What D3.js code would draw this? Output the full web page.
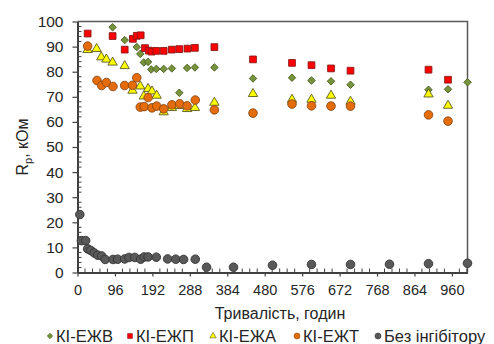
<!DOCTYPE html>
<html>
<head>
<meta charset="utf-8">
<script src="https://cdn.jsdelivr.net/npm/d3@7"></script>
<style>
  html, body { margin: 0; padding: 0; background: #fff; }
  svg { display: block; font-family: "Liberation Sans", Arial, sans-serif; }
</style>
</head>
<body>
<svg id="chart" width="494" height="344"></svg>
<script>
// Polarisation resistance (kOhm) vs. exposure time (hours)
const xTicks = [0, 96, 192, 288, 384, 480, 576, 672, 768, 864, 960];
const yTicks = [0, 10, 20, 30, 40, 50, 60, 70, 80, 90, 100];

const hoursEZhV = [90, 121, 152, 161, 170, 181, 189, 202, 221, 242, 261, 281, 301, 351, 450, 550, 600, 650, 700, 900, 950, 1000];
const valsEZhV  = [97.7, 92.6, 89.8, 87.1, 83.7, 83.9, 80.9, 81.1, 81.1, 81.3, 71.6, 81.5, 81.7, 81.7, 77.3, 77.6, 76.5, 76.2, 74.8, 72.8, 73.0, 75.8];

const hoursEZhP = [26, 90, 121, 142, 152, 162, 173, 183, 190, 202, 221, 242, 261, 282, 301, 351, 450, 550, 600, 650, 700, 900, 950];
const valsEZhP  = [95.2, 94.2, 88.8, 93.1, 94.3, 94.5, 89.4, 88.4, 88.0, 88.3, 88.3, 88.8, 89.0, 89.2, 89.5, 89.8, 84.9, 83.5, 82.6, 81.3, 80.4, 80.8, 76.8];

const hoursEZhA = [26, 49, 61, 74, 90, 121, 141, 161, 170, 181, 191, 203, 221, 242, 261, 281, 301, 351, 450, 550, 600, 650, 700, 900, 950];
const valsEZhA  = [88.7, 89.1, 85.8, 84.9, 83.7, 82.3, 72.5, 74.2, 70.2, 73.2, 72.2, 70.5, 63.9, 65.6, 66.4, 65.2, 65.6, 67.7, 71.2, 68.9, 68.9, 70.5, 68.1, 71.0, 66.5];

const hoursEZhT = [26, 50, 62, 74, 91, 121, 141, 152, 161, 171, 181, 191, 203, 221, 242, 262, 281, 302, 351, 450, 550, 600, 650, 700, 900, 950];
const valsEZhT  = [90.2, 76.5, 74.5, 75.7, 74.1, 74.5, 74.6, 77.6, 65.9, 66.1, 69.7, 65.6, 66.3, 65.2, 66.8, 67.2, 66.4, 68.7, 64.8, 63.5, 67.1, 66.4, 66.3, 66.3, 62.8, 60.3];

const hoursBlank = [6, 10, 21, 26, 34, 43, 52, 62, 71, 91, 103, 121, 132, 147, 162, 171, 181, 202, 231, 252, 272, 302, 331, 400, 500, 600, 700, 800, 900, 1000];
const valsBlank  = [23.1, 12.7, 12.7, 9.4, 8.8, 7.8, 6.9, 6.6, 5.2, 5.2, 5.3, 5.4, 6.0, 6.0, 5.3, 6.2, 6.2, 6.1, 5.4, 5.3, 5.2, 5.3, 2.1, 2.1, 2.9, 3.2, 3.2, 3.3, 3.5, 3.7];

const seriesNames = ["КІ-ЕЖВ", "КІ-ЕЖП", "КІ-ЕЖА", "КІ-ЕЖТ", "Без інгібітору"];

const series = [
  { name: seriesNames[0], hours: hoursEZhV, vals: valsEZhV, shape: d3.symbolDiamond2, size: 36, fill: "#77933c", stroke: "#4a5e22", lsize: 20 },
  { name: seriesNames[1], hours: hoursEZhP, vals: valsEZhP, shape: d3.symbolSquare2, size: 58, fill: "#ff0000", stroke: "#8b1a1a", lsize: 30 },
  { name: seriesNames[2], hours: hoursEZhA, vals: valsEZhA, shape: d3.symbolTriangle2, size: 62, fill: "#ffff00", stroke: "#5a5a20", lsize: 30 },
  { name: seriesNames[3], hours: hoursEZhT, vals: valsEZhT, shape: d3.symbolCircle, size: 58, fill: "#e46c0a", stroke: "#8a4a18", lsize: 28 },
  { name: seriesNames[4], hours: hoursBlank, vals: valsBlank, shape: d3.symbolCircle, size: 58, fill: "#595959", stroke: "#333333", lsize: 28 }
];

const svg = d3.select("#chart");
const m = { left: 77.5, top: 21.5, right: 467.5, bottom: 272.5 };

const x = d3.scaleLinear().domain([0, 1000]).range([m.left, m.right]);
const y = d3.scaleLinear().domain([0, 100]).range([m.bottom, m.top]);

// plot-area frame (top and right edges)
svg.append("path")
  .attr("d", `M${m.left},${m.top}H${m.right}V${m.bottom}`)
  .attr("fill", "none").attr("stroke", "#595959").attr("stroke-width", 1.5);

// minor ticks (inside)
const xMinor = d3.range(0, 1000, 19.2).filter(v => v % 96 > 0.01 && v % 96 < 95.99);
svg.append("g").selectAll("line").data(xMinor).join("line")
  .attr("x1", d => x(d)).attr("x2", d => x(d))
  .attr("y1", m.bottom).attr("y2", m.bottom - 4)
  .attr("stroke", "#404040").attr("stroke-width", 1);
const yMinor = d3.range(0, 100, 2).filter(v => v % 10 !== 0);
svg.append("g").selectAll("line").data(yMinor).join("line")
  .attr("y1", d => y(d)).attr("y2", d => y(d))
  .attr("x1", m.left).attr("x2", m.left + 4)
  .attr("stroke", "#404040").attr("stroke-width", 1);

// axes
const xAxis = svg.append("g")
  .attr("transform", `translate(0,${m.bottom})`)
  .call(d3.axisBottom(x).tickValues(xTicks).tickSize(4).tickPadding(8).tickSizeOuter(0));
const yAxis = svg.append("g")
  .attr("transform", `translate(${m.left},0)`)
  .call(d3.axisLeft(y).tickValues(yTicks).tickSize(5).tickPadding(9).tickSizeOuter(0));

[xAxis, yAxis].forEach(g => {
  g.select(".domain").attr("stroke", "#404040").attr("stroke-width", 2);
  g.selectAll(".tick line").attr("stroke", "#404040").attr("stroke-width", 1.2);
  g.selectAll(".tick text")
    .attr("fill", "#262626")
    .style("font-family", "'Liberation Sans', Arial, sans-serif");
});
xAxis.selectAll(".tick text").style("font-size", "14.5px");
yAxis.selectAll(".tick text").style("font-size", "15.5px");

// markers
series.forEach(s => {
  const sym = d3.symbol().type(s.shape).size(s.size);
  svg.append("g").selectAll("path")
    .data(s.hours.map((h, i) => [h, s.vals[i]]))
    .join("path")
    .attr("d", sym)
    .attr("transform", d => `translate(${x(d[0])},${y(d[1])})`)
    .attr("fill", s.fill)
    .attr("stroke", s.stroke)
    .attr("stroke-width", 0.9);
});

// axis titles
svg.append("text")
  .attr("x", 280).attr("y", 319)
  .attr("text-anchor", "middle")
  .attr("fill", "#262626")
  .style("font-size", "16px")
  .text("Тривалість, годин");

const yTitle = svg.append("text")
  .attr("transform", "translate(28,147) rotate(-90)")
  .attr("text-anchor", "middle")
  .attr("fill", "#262626")
  .style("font-size", "16px");
yTitle.append("tspan").text("R");
yTitle.append("tspan").attr("dy", 4).style("font-size", "11px").text("p");
yTitle.append("tspan").attr("dy", -4).text(", кОм");

// legend
const legendX = [50, 130, 213, 297, 378];
const legend = svg.append("g");
series.forEach((s, i) => {
  legend.append("path")
    .attr("d", d3.symbol().type(s.shape).size(s.lsize)())
    .attr("transform", `translate(${legendX[i]},336)`)
    .attr("fill", s.fill)
    .attr("stroke", s.stroke)
    .attr("stroke-width", 0.6);
  legend.append("text")
    .attr("x", legendX[i] + 6).attr("y", 341.5)
    .attr("fill", "#262626")
    .style("font-size", "16.5px")
    .text(s.name);
});
</script>
</body>
</html>
